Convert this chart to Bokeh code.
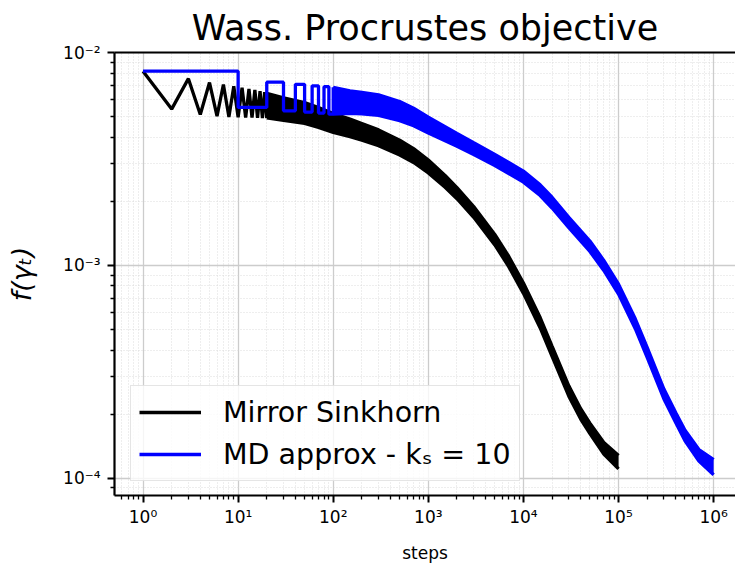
from bokeh.plotting import figure
from bokeh.models import (Range1d, FixedTicker, CustomJSTickFormatter, Legend,
                          LegendItem, LinearAxis)
from bokeh.embed import file_html
from bokeh.resources import INLINE

# ---------------- data ----------------
# Mirror Sinkhorn: first iterations (visible zig-zag)
ms_steps = [1, 2, 3, 4, 5, 6, 7, 8, 9, 10, 11, 12, 13, 14, 15, 16, 17, 18, 19, 20]
ms_vals = [8.19e-3, 5.43e-3, 7.55e-3, 5.12e-3, 7.24e-3, 5.03e-3, 7.09e-3,
           4.99e-3, 6.95e-3, 4.97e-3, 6.85e-3, 4.96e-3, 6.75e-3, 4.95e-3,
           6.68e-3, 4.94e-3, 6.60e-3, 4.93e-3, 6.52e-3, 4.92e-3]
# Mirror Sinkhorn: dense oscillation afterwards -> band centre and spread factor
ms_band_steps = [20, 30, 50, 70, 100, 150, 200, 300, 500, 700, 1000, 1500, 2000,
                 3000, 5000, 7000, 1e4, 1.5e4, 2e4, 3e4, 4e4, 5e4, 7e4, 1e5]
ms_center = [5.638e-3, 5.430e-3, 5.203e-3, 4.958e-3, 4.676e-3, 4.432e-3,
             4.246e-3, 3.981e-3, 3.577e-3, 3.284e-3, 2.918e-3, 2.485e-3,
             2.185e-3, 1.783e-3, 1.321e-3, 1.044e-3, 7.817e-4, 5.373e-4,
             3.946e-4, 2.566e-4, 2.004e-4, 1.714e-4, 1.380e-4, 1.187e-4]
ms_spread = [1.143, 1.131, 1.119, 1.113, 1.107, 1.101, 1.095, 1.089, 1.084,
             1.078, 1.072, 1.066, 1.062, 1.060, 1.058, 1.058, 1.058, 1.058,
             1.058, 1.058, 1.058, 1.058, 1.064, 1.075]

# MD approx (k_S = 10): piecewise-constant first iterations
md_steps = [1, 10, 20, 30, 40, 50, 60, 70, 80, 90, 100]
md_vals = [8.19e-3, 5.53e-3, 7.27e-3, 5.33e-3, 7.10e-3, 5.26e-3, 6.99e-3,
           5.20e-3, 6.92e-3, 5.14e-3, 6.88e-3]
# MD approx: dense oscillation afterwards -> band centre and spread factor
md_band_steps = [100, 150, 200, 300, 500, 700, 1000, 1500, 2000, 3000, 5000,
                 7000, 1e4, 1.5e4, 2e4, 3e4, 5e4, 7e4, 1e5, 1.5e5, 2e5, 3e5,
                 4e5, 5e5, 7e5, 1e6]
md_center = [5.947e-3, 5.853e-3, 5.790e-3, 5.668e-3, 5.315e-3, 4.985e-3,
             4.567e-3, 4.159e-3, 3.896e-3, 3.538e-3, 3.128e-3, 2.873e-3,
             2.614e-3, 2.257e-3, 1.973e-3, 1.592e-3, 1.230e-3, 1.000e-3,
             7.733e-4, 5.316e-4, 3.897e-4, 2.485e-4, 1.922e-4, 1.585e-4,
             1.279e-4, 1.125e-4]
md_spread = [1.157, 1.130, 1.123, 1.118, 1.110, 1.100, 1.090, 1.080, 1.072,
             1.066, 1.062, 1.062, 1.062, 1.060, 1.060, 1.058, 1.058, 1.056,
             1.055, 1.055, 1.055, 1.055, 1.055, 1.058, 1.065, 1.085]

x_major = [1, 10, 100, 1e3, 1e4, 1e5, 1e6]
y_major = [1e-4, 1e-3, 1e-2]
x_minor = [m * 10.0 ** e for e in range(-1, 7) for m in range(2, 10)]
y_minor = [m * 10.0 ** e for e in range(-5, -1) for m in range(2, 10)]

labels = ["Mirror Sinkhorn", "MD approx - k\u209b = 10"]
colors = ["#000000", "#0000ff"]

ms_upper = [c * s for c, s in zip(ms_center, ms_spread)]
ms_lower = [c / s for c, s in zip(ms_center, ms_spread)]
md_upper = [c * s for c, s in zip(md_center, md_spread)]
md_lower = [c / s for c, s in zip(md_center, md_spread)]

FONT = "DejaVu Sans"

# ---------------- figure ----------------
p = figure(width=735, height=565, x_axis_type="log", y_axis_type="log",
           x_range=Range1d(10 ** -0.3, 10 ** 6.23),
           y_range=Range1d(10 ** -4.082, 10 ** -1.999),
           output_backend="svg", toolbar_location=None,
           min_border_left=114, min_border_right=0, min_border_top=52,
           min_border_bottom=65)
p.outline_line_color = None
p.background_fill_color = "white"

p.title.text = "Wass. Procrustes objective"
p.title.text_font = FONT
p.title.text_font_size = "35px"
p.title.text_font_style = "normal"
p.title.text_color = "black"
p.title.align = "center"
p.title.standoff = 10
p.title.offset = 0

fmt = CustomJSTickFormatter(code="""
const sup = {'0':'\u2070','1':'\u00b9','2':'\u00b2','3':'\u00b3','4':'\u2074',
             '5':'\u2075','6':'\u2076','7':'\u2077','8':'\u2078','9':'\u2079','-':'\u207b'};
const e = Math.round(Math.log10(tick));
return '10' + String(e).split('').map(c => sup[c]).join('');
""")

xt = FixedTicker(ticks=x_major, minor_ticks=x_minor)
yt = FixedTicker(ticks=y_major, minor_ticks=y_minor)

for ax, t in ((p.xaxis[0], xt), (p.yaxis[0], yt)):
    ax.ticker = t
    ax.formatter = fmt
    ax.axis_line_width = 2.2
    ax.axis_line_color = "black"
    ax.major_tick_line_width = 2
    ax.minor_tick_line_width = 1.3
    ax.major_tick_out = 7
    ax.major_tick_in = 0
    ax.minor_tick_out = 4
    ax.minor_tick_in = 0
    ax.major_label_text_font = FONT
    ax.major_label_text_font_size = "17px"
    ax.major_label_text_color = "black"
    ax.axis_label_text_font = FONT
    ax.axis_label_text_color = "black"

p.xaxis.axis_label = "steps"
p.xaxis.axis_label_text_font_size = "17px"
p.xaxis.axis_label_text_font_style = "normal"
p.xaxis.major_label_standoff = 4
p.xaxis.axis_label_standoff = 13

p.yaxis.axis_label = "f(\u03b3\u209c)"
p.yaxis.axis_label_text_font_size = "27px"
p.yaxis.axis_label_text_font_style = "italic"
p.yaxis.major_label_standoff = 7
p.yaxis.axis_label_standoff = 23

# top spine
top = LinearAxis(ticker=FixedTicker(ticks=[]), axis_line_width=2.2,
                 major_tick_out=0, minor_tick_out=0, major_label_standoff=0,
                 major_label_text_font_size="0px")
p.add_layout(top, "above")

for g, t in ((p.xgrid[0], xt), (p.ygrid[0], yt)):
    g.ticker = t
    g.grid_line_color = "#cccccc"
    g.grid_line_width = 1.3
    g.minor_grid_line_color = "#d6d6d6"
    g.minor_grid_line_width = 1
    g.minor_grid_line_dash = "1 2"
    g.minor_grid_line_alpha = 0.8

LW = 3.3

# Mirror Sinkhorn
p.varea(x=ms_band_steps, y1=ms_lower, y2=ms_upper, fill_color=colors[0])
p.line(ms_band_steps, ms_upper, line_color=colors[0], line_width=LW)
p.line(ms_band_steps, ms_lower, line_color=colors[0], line_width=LW)
ms_line = p.line(ms_steps, ms_vals, line_color=colors[0], line_width=LW)

# MD approx
p.varea(x=md_band_steps, y1=md_lower, y2=md_upper, fill_color=colors[1])
p.line(md_band_steps, md_upper, line_color=colors[1], line_width=LW)
p.line(md_band_steps, md_lower, line_color=colors[1], line_width=LW)
md_line = p.step(md_steps, md_vals, mode="after", line_color=colors[1],
                 line_width=LW)

legend = Legend(items=[LegendItem(label=labels[0], renderers=[ms_line]),
                       LegendItem(label=labels[1], renderers=[md_line])],
                location=(16, 14), orientation="vertical")
legend.label_text_font = FONT
legend.label_text_font_size = "28.5px"
legend.label_text_color = "black"
legend.glyph_width = 62
legend.glyph_height = 36
legend.label_height = 36
legend.label_standoff = 22
legend.padding = 8
legend.spacing = 6
legend.margin = 0
legend.border_line_color = "#cccccc"
legend.border_line_width = 1.2
legend.background_fill_alpha = 0.8
p.add_layout(legend, "center")

open("out.html", "w").write(file_html(p, INLINE))
